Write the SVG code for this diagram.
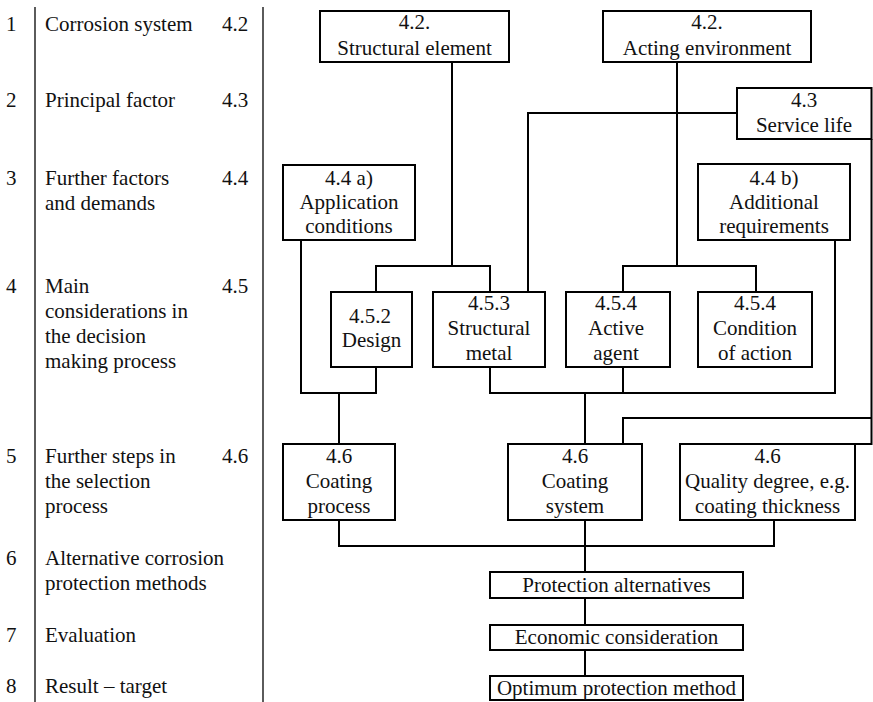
<svg xmlns="http://www.w3.org/2000/svg" width="873" height="702" viewBox="0 0 873 702">
<style>
text{font-family:'Liberation Serif','Tinos','DejaVu Serif',serif;font-size:21px;fill:#111}
.c{text-anchor:middle}
.box{fill:#fff;stroke:#000;stroke-width:2}
.ln{fill:none;stroke:#000;stroke-width:2}
.sep{stroke:#333;stroke-width:1.6}
</style>
<rect width="873" height="702" fill="#fff"/>
<g id="legend" font-family="Liberation Serif, DejaVu Serif, serif">
<line class="sep" x1="35" y1="7" x2="35" y2="702"/>
<line class="sep" x1="263" y1="7" x2="263" y2="702"/>
<text x="6" y="31">1</text><text x="45" y="31">Corrosion system</text><text x="222" y="31">4.2</text>
<text x="6" y="107">2</text><text x="45" y="107">Principal factor</text><text x="222" y="107">4.3</text>
<text x="6" y="185">3</text><text x="45" y="185">Further factors</text><text x="45" y="210">and demands</text><text x="222" y="185">4.4</text>
<text x="6" y="293">4</text><text x="45" y="293">Main</text><text x="45" y="318">considerations in</text><text x="45" y="343">the decision</text><text x="45" y="368">making process</text><text x="222" y="293">4.5</text>
<text x="6" y="463">5</text><text x="45" y="463">Further steps in</text><text x="45" y="488">the selection</text><text x="45" y="513">process</text><text x="222" y="463">4.6</text>
<text x="6" y="565">6</text><text x="45" y="565">Alternative corrosion</text><text x="45" y="590">protection methods</text>
<text x="6" y="642">7</text><text x="45" y="642">Evaluation</text>
<text x="6" y="693">8</text><text x="45" y="693">Result – target</text>
</g>
<g id="connectors">
<polyline class="ln" points="452,62 452,266"/>
<polyline class="ln" points="376,292 376,266 490,266 490,292"/>
<polyline class="ln" points="677,62 677,266"/>
<polyline class="ln" points="623,292 623,266 756,266 756,292"/>
<polyline class="ln" points="737,113 528,113 528,292"/>
<polyline class="ln" points="871.5,139 871.5,444 855,444"/>
<polyline class="ln" points="871.5,418 623,418 623,444"/>
<polyline class="ln" points="301,240 301,393 376,393 376,367"/>
<polyline class="ln" points="339,393 339,444"/>
<polyline class="ln" points="490,367 490,393 835,393 835,240"/>
<polyline class="ln" points="623,367 623,393"/>
<polyline class="ln" points="585,393 585,444"/>
<polyline class="ln" points="339,520 339,546 774,546 774,520"/>
<polyline class="ln" points="585,520 585,572"/>
<polyline class="ln" points="585,598 585,625"/>
<polyline class="ln" points="585,650 585,676"/>
</g>
<g font-family="Liberation Serif, DejaVu Serif, serif">
<g id="structural-element"><rect class="box" x="320" y="11" width="189" height="51"/><text class="c" x="414.5" y="29">4.2.</text><text class="c" x="414.5" y="55">Structural element</text></g>
<g id="acting-environment"><rect class="box" x="603" y="11" width="208" height="51"/><text class="c" x="707" y="29">4.2.</text><text class="c" x="707" y="55">Acting environment</text></g>
<g id="service-life"><rect class="box" x="737" y="88" width="134.5" height="51"/><text class="c" x="804" y="107">4.3</text><text class="c" x="804" y="132">Service life</text></g>
<g id="application-conditions"><rect class="box" x="283" y="165" width="132" height="75"/><text class="c" x="349" y="185">4.4 a)</text><text class="c" x="349" y="209">Application</text><text class="c" x="349" y="233">conditions</text></g>
<g id="additional-requirements"><rect class="box" x="698" y="164" width="152" height="76"/><text class="c" x="774" y="185">4.4 b)</text><text class="c" x="774" y="209">Additional</text><text class="c" x="774" y="233">requirements</text></g>
<g id="design"><rect class="box" x="331" y="292" width="81" height="75"/><text class="c" x="370" y="323">4.5.2</text><text class="c" x="371.5" y="347">Design</text></g>
<g id="structural-metal"><rect class="box" x="433" y="292" width="112" height="75"/><text class="c" x="489" y="310">4.5.3</text><text class="c" x="489" y="335">Structural</text><text class="c" x="489" y="360">metal</text></g>
<g id="active-agent"><rect class="box" x="566" y="292" width="104" height="75"/><text class="c" x="616" y="310">4.5.4</text><text class="c" x="616" y="335">Active</text><text class="c" x="616" y="360">agent</text></g>
<g id="condition-of-action"><rect class="box" x="698" y="292" width="114" height="75"/><text class="c" x="755" y="310">4.5.4</text><text class="c" x="755" y="335">Condition</text><text class="c" x="755" y="360">of action</text></g>
<g id="coating-process"><rect class="box" x="283" y="444" width="112" height="76"/><text class="c" x="339" y="463">4.6</text><text class="c" x="339" y="488">Coating</text><text class="c" x="339" y="513">process</text></g>
<g id="coating-system"><rect class="box" x="508" y="444" width="134" height="76"/><text class="c" x="575" y="463">4.6</text><text class="c" x="575" y="488">Coating</text><text class="c" x="575" y="513">system</text></g>
<g id="quality-degree"><rect class="box" x="680" y="444" width="175" height="76"/><text class="c" x="767.5" y="463">4.6</text><text class="c" x="767.5" y="488">Quality degree, e.g.</text><text class="c" x="767.5" y="513">coating thickness</text></g>
<g id="protection-alternatives"><rect class="box" x="490" y="572" width="253" height="26"/><text class="c" x="616.5" y="592">Protection alternatives</text></g>
<g id="economic-consideration"><rect class="box" x="490" y="625" width="253" height="25"/><text class="c" x="616.5" y="644">Economic consideration</text></g>
<g id="optimum-protection-method"><rect class="box" x="490" y="676" width="253" height="24"/><text class="c" x="616.5" y="695">Optimum protection method</text></g>
</g>
</svg>
